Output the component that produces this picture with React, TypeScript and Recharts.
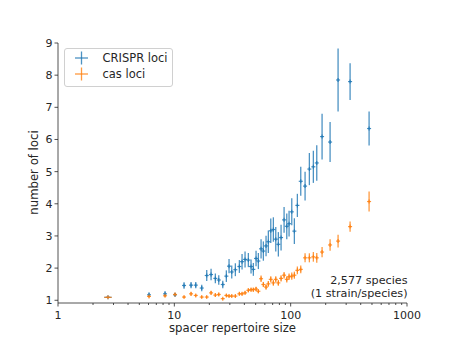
import { ScatterChart, Scatter, XAxis, YAxis, ErrorBar, Legend, Customized } from 'recharts'

// bin centres (spacer repertoire size)
const spacerSize = [
  2.69, 6.06, 8.32, 10.14, 12.12, 13.92, 15.28, 17.2, 18.99, 20.69,
  22.52, 24.09, 26.08, 28.0, 29.53, 31.15, 33.46, 36.23, 38.21, 40.54,
  43.28, 45.65, 47.78, 50.4, 52.77, 55.66, 58.26, 61.43, 64.29, 67.44,
  71.0, 74.45, 78.38, 82.7, 87.78, 92.58, 96.88, 102.2, 107.6, 114.2,
  122.1, 133, 144.8, 156.7, 167.6, 186.2, 218.2, 255.6, 324.2, 472.2,
]

const crisprMean = [
  1.09, 1.17, 1.2, 1.17, 1.46, 1.47, 1.47, 1.38, 1.77, 1.8,
  1.68, 1.63, 1.49, 1.75, 2.06, 1.88, 1.95, 2.05, 2.2, 2.27,
  2.25, 2.05, 1.96, 2.3, 2.22, 2.6, 2.53, 2.69, 2.82, 3.16,
  3.2, 2.9, 2.74, 2.95, 3.5, 3.3, 3.38, 3.75, 3.15, 3.95,
  4.7, 4.55, 5.08, 5.15, 5.27, 6.09, 5.92, 7.85, 7.8, 6.34,
]

const crisprErr = [
  0.02, 0.07, 0.08, 0.05, 0.1, 0.1, 0.1, 0.1, 0.17, 0.18,
  0.15, 0.15, 0.12, 0.18, 0.22, 0.2, 0.2, 0.2, 0.24, 0.25,
  0.22, 0.22, 0.2, 0.24, 0.25, 0.3, 0.3, 0.32, 0.35, 0.38,
  0.38, 0.38, 0.38, 0.4, 0.4, 0.4, 0.4, 0.42, 0.4, 0.36,
  0.45, 0.45, 0.5, 0.5, 0.55, 0.71, 0.62, 0.98, 0.57, 0.53,
]

const casMean = [
  1.09, 1.12, 1.14, 1.18, 1.1, 1.2, 1.15, 1.1, 1.1, 1.23,
  1.16, 1.18, 1.05, 1.15, 1.13, 1.13, 1.13, 1.2, 1.2, 1.23,
  1.31, 1.33, 1.33, 1.35, 1.28, 1.67, 1.49, 1.41, 1.51, 1.65,
  1.54, 1.65, 1.54, 1.68, 1.78, 1.65, 1.73, 1.75, 1.78, 1.93,
  1.96, 2.32, 2.32, 2.35, 2.32, 2.5, 2.72, 2.84, 3.29, 4.07,
]

const casErr = [
  0.01, 0.04, 0.04, 0.05, 0.03, 0.06, 0.04, 0.03, 0.03, 0.06,
  0.05, 0.05, 0.03, 0.04, 0.04, 0.04, 0.04, 0.05, 0.05, 0.05,
  0.06, 0.06, 0.06, 0.07, 0.06, 0.1, 0.08, 0.08, 0.09, 0.1,
  0.09, 0.1, 0.09, 0.1, 0.1, 0.1, 0.1, 0.11, 0.11, 0.12,
  0.12, 0.14, 0.14, 0.15, 0.15, 0.16, 0.18, 0.2, 0.16, 0.31,
]

// the first bin is wide, so it has a visible horizontal error bar
const firstBinSpread = [0.19, 0.2]

const xTicks = [
  1, 2, 3, 4, 5, 6, 7, 8, 9,
  10, 20, 30, 40, 50, 60, 70, 80, 90,
  100, 200, 300, 400, 500, 600, 700, 800, 900, 1000,
]
const xMajor = [1, 10, 100, 1000]
const yTicks = [1, 2, 3, 4, 5, 6, 7, 8, 9]

const BLUE = '#1f77b4'
const ORANGE = '#ff7f0e'
const FONT = 'DejaVu Sans'
const AXIS = '#262626'

const crisprData = spacerSize.map((s, i) => ({
  size: s,
  loci: crisprMean[i],
  err: crisprErr[i],
  xerr: i === 0 ? firstBinSpread : 0,
}))

const casData = spacerSize.map((s, i) => ({
  size: s,
  loci: casMean[i],
  err: casErr[i],
  xerr: i === 0 ? firstBinSpread : 0,
}))

const plusShape = (color: string) => (props: any) => {
  const { cx, cy } = props
  return (
    <g stroke={color} strokeWidth={1.2} strokeOpacity={0.85}>
      <line x1={cx - 2} x2={cx + 2} y1={cy} y2={cy} />
      <line x1={cx} x2={cx} y1={cy - 2} y2={cy + 2} />
    </g>
  )
}

const XTick = (props: any) => {
  const { x, y, payload } = props
  const major = xMajor.includes(payload.value)
  return (
    <g>
      <line x1={x} x2={x} y1={y} y2={y + (major ? 3.5 : 2)} stroke={AXIS} strokeWidth={0.8} />
      {major && (
        <text x={x} y={y + 15.5} textAnchor="middle" fontSize={11} fontFamily={FONT} fill={AXIS}>
          {payload.value}
        </text>
      )}
    </g>
  )
}

const YTick = (props: any) => {
  const { x, y, payload } = props
  return (
    <g>
      <line x1={x - 3.5} x2={x} y1={y} y2={y} stroke={AXIS} strokeWidth={0.8} />
      <text x={x - 5.5} y={y + 4} textAnchor="end" fontSize={11} fontFamily={FONT} fill={AXIS}>
        {payload.value}
      </text>
    </g>
  )
}

const LegendBox = () => (
  <div
    style={{
      position: 'relative',
      width: 107,
      height: 37,
      border: '1px solid #d0d0d0',
      borderRadius: 3,
      background: 'rgba(255,255,255,0.8)',
      fontFamily: FONT,
      fontSize: 11.5,
      color: AXIS,
    }}
  >
    {[
      { name: 'CRISPR loci', color: BLUE, top: 1 },
      { name: 'cas loci', color: ORANGE, top: 17 },
    ].map((item) => (
      <div key={item.name} style={{ position: 'absolute', left: 0, top: item.top, height: 16, display: 'flex', alignItems: 'center' }}>
        <svg width={36} height={16} style={{ display: 'block' }}>
          <g stroke={item.color} strokeWidth={1.3} strokeOpacity={0.8}>
            <line x1={10} x2={23} y1={8} y2={8} />
            <line x1={16.5} x2={16.5} y1={1.5} y2={14.5} />
          </g>
        </svg>
        <span style={{ marginLeft: 1.5, lineHeight: '16px', whiteSpace: 'nowrap' }}>{item.name}</span>
      </div>
    ))}
  </div>
)

const Annotation = () => (
  <g fontFamily={FONT} fontSize={11.2} fill={AXIS} textAnchor="end">
    <text x={399.5} y={276}>2,577 species</text>
    <text x={399.5} y={288.5}>(1 strain/species)</text>
  </g>
)

const App = () => {
  return (
    <ScatterChart width={446} height={334} margin={{ top: 35, right: 47, bottom: 0, left: 0 }}>
      <XAxis
        dataKey="size"
        type="number"
        scale="log"
        domain={[1, 1000]}
        ticks={xTicks}
        interval={0}
        allowDataOverflow
        height={39}
        tickSize={0}
        tickMargin={0}
        tick={<XTick />}
        axisLine={{ stroke: AXIS, strokeWidth: 0.8 }}
        label={{
          content: (p: any) => (
            <text
              x={p.viewBox.x + p.viewBox.width / 2}
              y={p.viewBox.y + 29}
              textAnchor="middle"
              fontSize={11.7}
              fontFamily={FONT}
              fill={AXIS}
            >
              spacer repertoire size
            </text>
          ),
        }}
      />
      <YAxis
        dataKey="loci"
        type="number"
        domain={[0.915, 9]}
        ticks={yTicks}
        interval={0}
        allowDataOverflow
        width={50}
        tickSize={0}
        tickMargin={0}
        tick={<YTick />}
        axisLine={{ stroke: AXIS, strokeWidth: 0.8 }}
        label={{
          content: (p: any) => (
            <text
              x={30}
              y={p.viewBox.y + p.viewBox.height / 2 - 0.5}
              transform={`rotate(-90, 30, ${p.viewBox.y + p.viewBox.height / 2 - 0.5})`}
              textAnchor="middle"
              fontSize={11.7}
              fontFamily={FONT}
              fill={AXIS}
            >
              number of loci
            </text>
          ),
        }}
      />
      <Legend
        layout="vertical"
        align="center"
        verticalAlign="middle"
        wrapperStyle={{ position: 'absolute', left: 56, top: 40, width: 109, height: 39 }}
        content={() => <LegendBox />}
      />
      <Scatter name="CRISPR loci" data={crisprData} shape={plusShape(BLUE)} isAnimationActive={false}>
        <ErrorBar dataKey="err" direction="y" width={0} stroke={BLUE} strokeWidth={1.3} strokeOpacity={0.8} />
        <ErrorBar dataKey="xerr" direction="x" width={0} stroke={BLUE} strokeWidth={1.3} strokeOpacity={0.8} />
      </Scatter>
      <Scatter name="cas loci" data={casData} shape={plusShape(ORANGE)} isAnimationActive={false}>
        <ErrorBar dataKey="err" direction="y" width={0} stroke={ORANGE} strokeWidth={1.3} strokeOpacity={0.8} />
        <ErrorBar dataKey="xerr" direction="x" width={0} stroke={ORANGE} strokeWidth={1.3} strokeOpacity={0.8} />
      </Scatter>
      <Customized component={Annotation} />
    </ScatterChart>
  )
}

export default App
